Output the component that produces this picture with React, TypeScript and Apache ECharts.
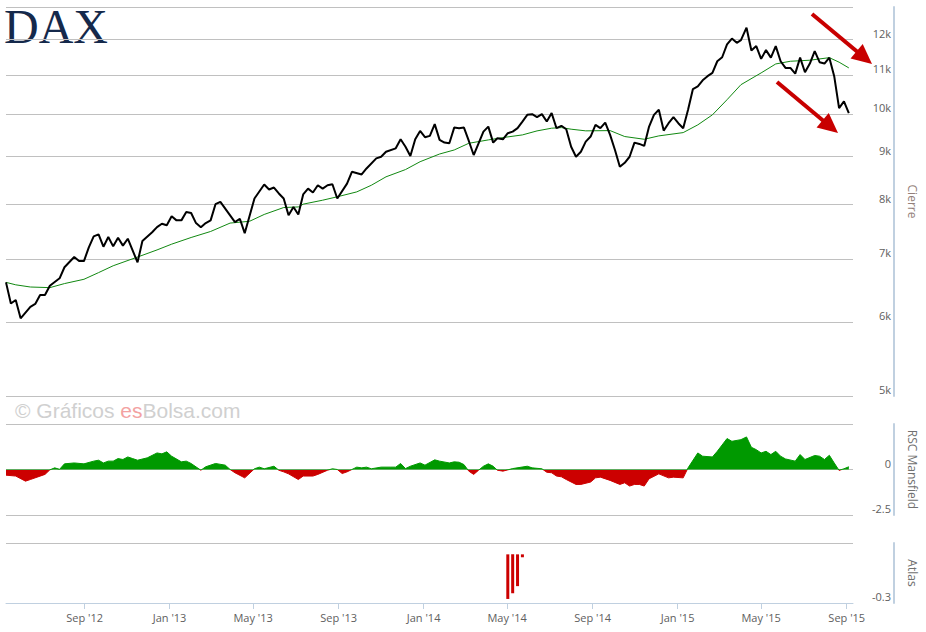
import React, { useEffect, useRef } from 'react';
import * as echarts from 'echarts';

// ---- Price (weekly close, DAX) ----
const PRICE_DATES = [
  '2012-05-11','2012-05-18','2012-05-25','2012-06-01','2012-06-15','2012-06-22','2012-06-29','2012-07-06','2012-07-13','2012-07-27',
  '2012-08-03','2012-08-17','2012-08-24','2012-08-31','2012-09-07','2012-09-14','2012-09-21','2012-09-28','2012-10-05','2012-10-12',
  '2012-10-19','2012-10-26','2012-11-02','2012-11-16','2012-11-23','2012-12-07','2012-12-14','2012-12-21','2012-12-28','2013-01-04',
  '2013-01-11','2013-01-18','2013-01-25','2013-02-01','2013-02-08','2013-02-15','2013-02-22','2013-03-01','2013-03-08','2013-03-15',
  '2013-04-05','2013-04-12','2013-04-19','2013-05-03','2013-05-17','2013-05-24','2013-05-31','2013-06-07','2013-06-14','2013-06-21',
  '2013-06-28','2013-07-05','2013-07-12','2013-07-19','2013-07-26','2013-08-02','2013-08-09','2013-08-16','2013-08-23','2013-08-30',
  '2013-09-13','2013-09-20','2013-10-04','2013-10-11','2013-10-25','2013-11-01','2013-11-08','2013-11-22','2013-11-29','2013-12-06',
  '2013-12-13','2013-12-20','2013-12-27','2014-01-03','2014-01-10','2014-01-17','2014-01-24','2014-01-31','2014-02-07','2014-02-14',
  '2014-02-21','2014-02-28','2014-03-07','2014-03-14','2014-03-21','2014-03-28','2014-04-04','2014-04-11','2014-04-17','2014-04-25',
  '2014-05-02','2014-05-09','2014-05-16','2014-05-23','2014-05-30','2014-06-06','2014-06-13','2014-06-20','2014-06-27','2014-07-04',
  '2014-07-11','2014-07-18','2014-07-25','2014-08-01','2014-08-08','2014-08-15','2014-08-22','2014-08-29','2014-09-05','2014-09-12',
  '2014-09-19','2014-09-26','2014-10-03','2014-10-10','2014-10-17','2014-10-24','2014-10-31','2014-11-07','2014-11-14','2014-11-21',
  '2014-11-28','2014-12-05','2014-12-12','2014-12-19','2014-12-26','2015-01-02','2015-01-09','2015-01-16','2015-01-23','2015-01-30',
  '2015-02-06','2015-02-13','2015-02-20','2015-02-27','2015-03-06','2015-03-13','2015-03-20','2015-03-27','2015-04-02','2015-04-10',
  '2015-04-17','2015-04-24','2015-05-01','2015-05-08','2015-05-15','2015-05-22','2015-05-29','2015-06-05','2015-06-12','2015-06-19',
  '2015-06-26','2015-07-03','2015-07-10','2015-07-17','2015-07-24','2015-07-31','2015-08-07','2015-08-14','2015-08-21','2015-08-28',
  '2015-09-04',
];
const PRICE_VALUES = [
  6610, 6276, 6330, 6051, 6224, 6268, 6407, 6407, 6555, 6676,
  6860, 7034, 6965, 6965, 7204, 7401, 7437, 7215, 7388, 7221,
  7376, 7234, 7358, 6943, 7318, 7477, 7570, 7634, 7604, 7774,
  7697, 7697, 7856, 7837, 7646, 7570, 7646, 7697, 8009, 8055,
  7665, 7728, 7459, 8122, 8406, 8304, 8344, 8223, 8122, 7793,
  7955, 7810, 8203, 8321, 8243, 8391, 8321, 8391, 8411, 8122,
  8424, 8672, 8617, 8744, 8963, 8999, 9111, 9187, 9394, 9224,
  9016, 9394, 9589, 9441, 9472, 9749, 9379, 9317, 9302, 9667,
  9653, 9667, 9355, 9037, 9302, 9573, 9691, 9317, 9417, 9394,
  9535, 9573, 9653, 9812, 9975, 9992, 9919, 9992, 9812, 10017,
  9653, 9710, 9629, 9224, 8999, 9111, 9340, 9457, 9732, 9653,
  9787, 9495, 9149, 8779, 8867, 8999, 9317, 9287, 9241, 9691,
  9975, 10099, 9596, 9771, 9919, 9771, 9653, 10099, 10628, 10698,
  10859, 10968, 11057, 11378, 11491, 11858, 12030, 11906, 11985, 12356,
  11683, 11809, 11447, 11694, 11479, 11809, 11378, 11194, 11194, 11038,
  11479, 11074, 11315, 11662, 11352, 11315, 11479, 10968, 10142, 10308,
  10017,
];

// ---- Moving average (green) ----
const MA_DATES = [
  '2012-05-11','2012-05-25','2012-06-15','2012-07-13','2012-08-03','2012-08-31','2012-09-21','2012-10-12','2012-11-16','2012-12-14',
  '2013-01-04','2013-02-01','2013-03-01','2013-03-29','2013-04-26','2013-05-17','2013-06-14','2013-07-05','2013-07-12','2013-08-09',
  '2013-08-30','2013-09-27','2013-10-18','2013-11-08','2013-12-06','2013-12-27','2014-01-24','2014-02-14','2014-03-07','2014-04-04',
  '2014-04-25','2014-05-23','2014-06-13','2014-07-04','2014-07-18','2014-08-01','2014-08-22','2014-09-26','2014-10-17','2014-11-14',
  '2014-12-05','2015-01-09','2015-01-30','2015-02-20','2015-03-13','2015-04-02','2015-05-01','2015-05-22','2015-06-12','2015-07-10',
  '2015-08-07','2015-08-21','2015-09-04',
];
const MA_VALUES = [
  6610, 6570, 6535, 6525, 6590, 6660, 6770, 6885, 7034, 7158,
  7260, 7380, 7490, 7646, 7680, 7810, 7944, 7955, 8010, 8088,
  8156, 8255, 8391, 8566, 8720, 8890, 9060, 9150, 9302, 9379,
  9433, 9495, 9589, 9653, 9667, 9629, 9590, 9596, 9457, 9394,
  9472, 9549, 9732, 9975, 10352, 10742, 11057, 11303, 11378, 11407,
  11479, 11352, 11194,
];

// ---- RSC Mansfield ----
const RSC_DATES = [
  '2012-05-11','2012-05-25','2012-06-08','2012-06-15','2012-07-06','2012-07-13','2012-07-20','2012-07-27','2012-08-03','2012-08-17',
  '2012-08-31','2012-09-14','2012-09-21','2012-09-28','2012-10-05','2012-10-12','2012-10-19','2012-10-26','2012-11-02','2012-11-09',
  '2012-11-16','2012-11-30','2012-12-14','2012-12-21','2012-12-28','2013-01-04','2013-01-18','2013-01-25','2013-02-01','2013-02-15',
  '2013-02-22','2013-03-08','2013-03-22','2013-03-29','2013-04-05','2013-04-19','2013-05-03','2013-05-10','2013-05-17','2013-05-31',
  '2013-06-07','2013-06-14','2013-06-21','2013-07-05','2013-07-12','2013-07-26','2013-08-02','2013-08-16','2013-08-23','2013-08-30',
  '2013-09-06','2013-09-13','2013-09-20','2013-09-27','2013-10-04','2013-10-11','2013-10-18','2013-11-01','2013-11-15','2013-11-22',
  '2013-11-29','2013-12-06','2013-12-13','2013-12-27','2014-01-03','2014-01-17','2014-01-24','2014-02-07','2014-02-14','2014-02-21',
  '2014-02-28','2014-03-07','2014-03-14','2014-03-21','2014-03-28','2014-04-04','2014-04-11','2014-04-17','2014-04-25','2014-05-09',
  '2014-05-30','2014-06-06','2014-06-20','2014-06-27','2014-07-04','2014-07-11','2014-07-18','2014-07-25','2014-08-08','2014-08-15',
  '2014-08-29','2014-09-05','2014-09-12','2014-09-26','2014-10-10','2014-10-17','2014-10-24','2014-10-31','2014-11-07','2014-11-14',
  '2014-11-21','2014-12-05','2014-12-19','2014-12-26','2015-01-09','2015-01-16','2015-01-30','2015-02-06','2015-02-20','2015-02-27',
  '2015-03-13','2015-03-20','2015-04-02','2015-04-10','2015-04-17','2015-04-24','2015-05-01','2015-05-08','2015-05-15','2015-05-22',
  '2015-05-29','2015-06-05','2015-06-19','2015-06-26','2015-07-03','2015-07-17','2015-07-24','2015-07-31','2015-08-07','2015-08-14',
  '2015-08-21','2015-08-28','2015-09-04',
];
const RSC_VALUES = [
  -0.31, -0.36, -0.64, -0.55, -0.27, -0.02, 0.09, 0.01, 0.31, 0.36,
  0.31, 0.46, 0.51, 0.36, 0.46, 0.46, 0.60, 0.55, 0.69, 0.60,
  0.51, 0.64, 0.91, 0.86, 0.97, 0.73, 0.42, 0.46, 0.33, -0.04,
  0.15, 0.33, 0.24, 0.0, -0.18, -0.46, 0.04, 0.13, 0.04, 0.18,
  -0.04, -0.13, -0.24, -0.55, -0.36, -0.36, -0.27, -0.04, 0.04, 0.0,
  -0.22, -0.13, 0.0, 0.13, 0.09, 0.13, 0.04, 0.13, 0.13, 0.13,
  0.33, 0.05, 0.18, 0.36, 0.24, 0.53, 0.46, 0.36, 0.42, 0.40,
  0.27, -0.09, -0.27, -0.04, 0.18, 0.31, 0.18, -0.04, -0.09, 0.05,
  0.18, 0.09, 0.04, -0.15, -0.18, -0.36, -0.40, -0.55, -0.82, -0.82,
  -0.69, -0.46, -0.42, -0.60, -0.82, -0.73, -0.91, -0.82, -0.82, -0.91,
  -0.51, -0.24, -0.46, -0.42, -0.46, 0.09, 0.91, 0.73, 0.69, 1.00,
  1.70, 1.55, 1.64, 1.79, 1.22, 1.09, 0.91, 1.00, 0.82, 1.00,
  0.73, 0.58, 0.46, 0.82, 0.55, 0.77, 0.73, 0.55, 0.78, 0.36,
  -0.05, 0.04, 0.15,
];

// ---- Atlas ----
const ATLAS_DATES = ['2014-05-02', '2014-05-09', '2014-05-16', '2014-05-23'];
const ATLAS_VALUES = [-0.275, -0.24, -0.196, -0.018];

// ---- Axes ----
const X_MIN = '2012-05-11';
const X_MAX = '2015-09-10';
const X_TICKS = ['2012-09-01', '2013-01-01', '2013-05-01', '2013-09-01', '2014-01-01', '2014-05-01', '2014-09-01', '2015-01-01', '2015-05-01', '2015-09-01'];
const MONTHS = ['Jan', 'Feb', 'Mar', 'Apr', 'May', 'Jun', 'Jul', 'Aug', 'Sep', 'Oct', 'Nov', 'Dec'];
const PRICE_MIN = 5000;
const PRICE_MAX = 13000;
const PRICE_GRID_VALUES = [5000, 6000, 7000, 8000, 9000, 10000, 11000, 12000, 13000];
const PRICE_LABEL_VALUES = [5000, 6000, 7000, 8000, 9000, 10000, 11000, 12000];
const RSC_GRID_VALUES = [-2.5, 0, 2.5];
const RSC_LABEL_VALUES = [-2.5, 0];
const ATLAS_GRID_VALUES = [-0.3, 0.07];
const ATLAS_LABEL_VALUES = [-0.3];

const FONT = '"Open Sans", "DejaVu Sans", sans-serif';
const GRID_COLOR = '#C0C0C0';
const AXIS_COLOR = '#C0D0E0';
const LABEL_COLOR = '#606060';
const TITLE_COLOR = '#707070';
const UP_COLOR = '#009900';
const DOWN_COLOR = '#cc0000';

// logarithmic price scale: values are placed on a linear axis in log10 units
const lg = (v: number) => Math.log10(v);
const ts = (d: string) => +echarts.time.parse(d);
const pair = (dates: string[], vals: number[], f: (v: number) => number = (v) => v) =>
  dates.map((d, i) => [ts(d), f(vals[i])]);

function yAxisCommon(gridIndex: number, name: string, nameColor: string, grid: number[], labels: number[], fmt: (v: number) => string, extra: any) {
  return {
    type: 'value',
    gridIndex,
    position: 'right',
    offset: 41,
    name,
    nameLocation: 'middle',
    nameRotate: -90,
    nameGap: 12,
    nameMoveOverlap: false,
    nameTextStyle: { color: nameColor, fontSize: 12, fontFamily: FONT },
    axisLine: { show: true, onZero: false, lineStyle: { color: AXIS_COLOR, width: 2 } },
    axisTick: { show: false, customValues: grid },
    axisLabel: {
      inside: true,
      margin: 3,
      customValues: labels,
      formatter: fmt,
      color: LABEL_COLOR,
      fontSize: 11,
      fontFamily: FONT,
      verticalAlign: 'bottom',
      align: 'right',
      padding: [0, 0, 1, 0],
    },
    splitLine: { show: true, lineStyle: { color: GRID_COLOR, width: 1 } },
    ...extra,
  };
}

function xLabel(v: number) {
  const d = new Date(v);
  return MONTHS[d.getMonth()] + " '" + String(d.getFullYear()).slice(2);
}

function arrow(tail: number[], tip: number[]) {
  const dx = tip[0] - tail[0];
  const dy = tip[1] - tail[1];
  const len = Math.sqrt(dx * dx + dy * dy);
  const ux = dx / len, uy = dy / len;
  const headLen = 20, half = 9.5;
  const bx = tip[0] - ux * headLen, by = tip[1] - uy * headLen;
  return [
    { type: 'line', shape: { x1: tail[0], y1: tail[1], x2: bx + ux * 2, y2: by + uy * 2 }, style: { stroke: '#c80000', lineWidth: 4 }, z: 100 },
    { type: 'polygon', shape: { points: [tip, [bx - uy * half, by + ux * half], [bx + uy * half, by - ux * half]] }, style: { fill: '#c80000' }, z: 100 },
  ];
}

export default function App() {
  const ref = useRef<HTMLDivElement>(null);
  useEffect(() => {
    const chart = echarts.init(ref.current!, null, { renderer: 'svg' });
    const grids = [
      { left: 6, right: 69, top: 7, height: 389 },
      { left: 6, right: 69, top: 424, height: 91 },
      { left: 6, right: 69, top: 543, height: 60 },
    ];
    const xTicks = X_TICKS.map(ts);
    const option: any = {
      animation: false,
      backgroundColor: '#ffffff',
      grid: grids,
      xAxis: [0, 1, 2].map((i) => ({
        type: 'value',
        gridIndex: i,
        min: ts(X_MIN),
        max: ts(X_MAX),
        show: i === 2,
        axisLine: { show: true, onZero: false, lineStyle: { color: AXIS_COLOR, width: 1 } },
        axisTick: { show: true, customValues: xTicks, length: 6, lineStyle: { color: AXIS_COLOR } },
        axisLabel: { customValues: xTicks, formatter: xLabel, color: LABEL_COLOR, fontSize: 11, fontFamily: FONT, margin: 9 },
        splitLine: { show: false },
      })),
      yAxis: [
        yAxisCommon(0, 'Cierre', '#937f7a', PRICE_GRID_VALUES.map(lg), PRICE_LABEL_VALUES.map(lg),
          (v: number) => Math.round(Math.pow(10, v) / 1000) + 'k', { min: lg(PRICE_MIN), max: lg(PRICE_MAX) }),
        yAxisCommon(1, 'RSC Mansfield', TITLE_COLOR, RSC_GRID_VALUES, RSC_LABEL_VALUES, (v: number) => String(v), {
          min: -2.5, max: 2.5,
        }),
        yAxisCommon(2, 'Atlas', TITLE_COLOR, ATLAS_GRID_VALUES, ATLAS_LABEL_VALUES, (v: number) => String(v), {
          min: -0.3, max: 0.07,
        }),
      ],
      series: [
        {
          name: 'DAX',
          type: 'line',
          xAxisIndex: 0,
          yAxisIndex: 0,
          data: pair(PRICE_DATES, PRICE_VALUES, lg),
          symbol: 'none',
          lineStyle: { color: '#000000', width: 2 },
          z: 4,
        },
        {
          name: 'Media',
          type: 'line',
          xAxisIndex: 0,
          yAxisIndex: 0,
          data: pair(MA_DATES, MA_VALUES, lg),
          symbol: 'none',
          lineStyle: { color: '#118811', width: 1 },
          z: 3,
        },
        {
          name: 'RSC Mansfield',
          type: 'line',
          xAxisIndex: 1,
          yAxisIndex: 1,
          data: pair(RSC_DATES, RSC_VALUES),
          symbol: 'none',
          lineStyle: { width: 1, color: UP_COLOR },
          areaStyle: { opacity: 1, color: UP_COLOR, origin: 0 },
          z: 3,
        },
        {
          name: 'Atlas',
          type: 'bar',
          xAxisIndex: 2,
          yAxisIndex: 2,
          data: pair(ATLAS_DATES, ATLAS_VALUES),
          barWidth: 3,
          itemStyle: { color: DOWN_COLOR },
        },
      ],
      graphic: [
        {
          type: 'text',
          left: 4,
          top: 2,
          style: { text: 'DAX', fontFamily: '"Liberation Serif", "Times New Roman", serif', fontSize: 48, lineHeight: 42, fill: '#15294b' },
        },
        {
          type: 'text',
          left: 15,
          top: 400,
          style: {
            text: '{a|© Gráficos }{b|es}{a|Bolsa.com}',
            rich: {
              a: { fill: '#d0d0d0', fontSize: 21, fontFamily: '"Liberation Sans", Arial, sans-serif' },
              b: { fill: '#f3a2a2', fontSize: 21, fontFamily: '"Liberation Sans", Arial, sans-serif' },
            },
          },
        },
        ...arrow([812, 14], [872, 64]),
        ...arrow([777, 82], [838, 133]),
      ],
    };
    try {
      chart.setOption(option);
      // green above the zero line, red below it: hard colour stop at the pixel of value 0
      const zeroY = chart.convertToPixel({ yAxisIndex: 1 }, 0) as unknown as number;
      const h = chart.getHeight();
      const t = zeroY / h;
      const grad = new echarts.graphic.LinearGradient(0, 0, 0, h, [
        { offset: 0, color: UP_COLOR },
        { offset: t, color: UP_COLOR },
        { offset: t, color: DOWN_COLOR },
        { offset: 1, color: DOWN_COLOR },
      ], true);
      chart.setOption({ series: [{}, {}, { lineStyle: { color: grad }, areaStyle: { color: grad } }, {}] });
    } catch (e) {
      console.error(e);
    }
    return () => chart.dispose();
  }, []);
  return <div ref={ref} style={{ position: 'absolute', left: 0, top: 0, width: 926, height: 632 }} />;
}
